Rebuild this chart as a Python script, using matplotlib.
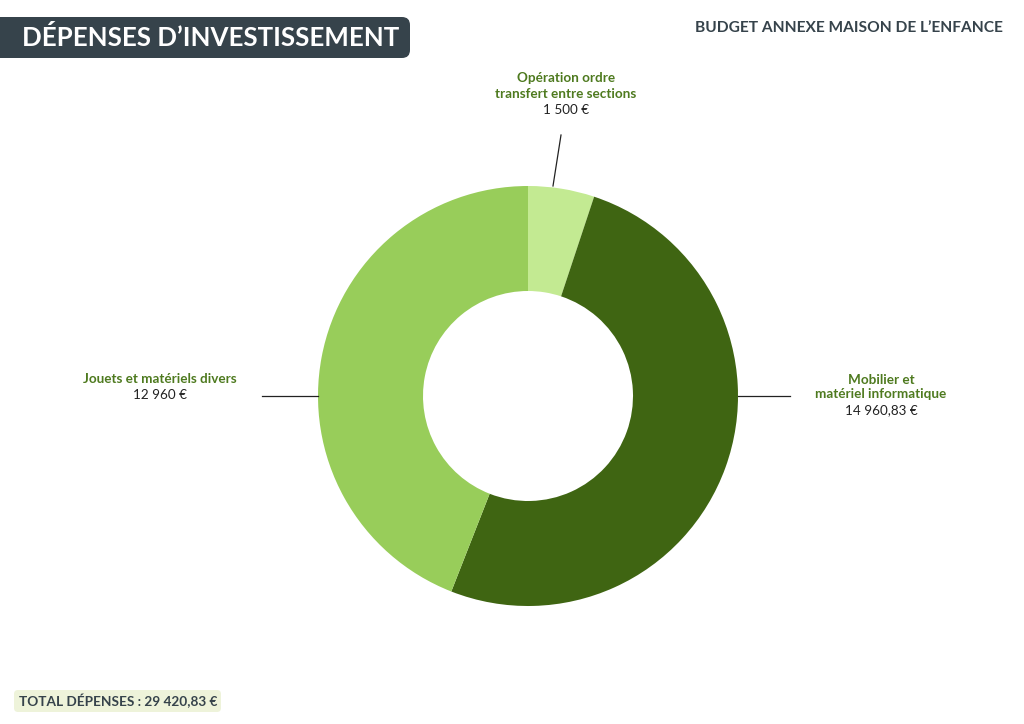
import matplotlib
matplotlib.use('Agg')
import matplotlib.pyplot as plt
from matplotlib.patches import FancyBboxPatch

# données
categories = ['Opération ordre\ntransfert entre sections',
              'Mobilier et\nmatériel informatique',
              'Jouets et matériels divers']
montants = [1500, 14960.83, 12960]
montants_txt = ['1 500 €', '14 960,83 €', '12 960 €']
couleurs = ['#C3EA92', '#3F6512', '#98CD5A']
total_txt = 'TOTAL DÉPENSES : 29 420,83 €'

plt.rcParams['font.family'] = ['Lato', 'DejaVu Sans']

fig = plt.figure(figsize=(10.24, 7.24), dpi=100)
ax = fig.add_axes([0, 0, 1, 1])

H = 724
cx, cy, r = 528, H - 396, 210

ax.pie(montants, colors=couleurs, startangle=90, counterclock=False,
       center=(cx, cy), radius=r, frame=True,
       wedgeprops=dict(width=r * 0.5, linewidth=0))
ax.set_xlim(0, 1024)
ax.set_ylim(0, 724)
ax.set_aspect('equal')
ax.axis('off')

vert = '#4E7A1F'
# lignes de rappel
ax.plot([561, 553], [H - 135, H - 186], color='#222222', lw=0.9)
ax.plot([738, 790], [H - 396, H - 396], color='#222222', lw=0.9)
ax.plot([262, 318], [H - 396, H - 396], color='#222222', lw=0.9)

# étiquettes
ax.text(566, H - 86, categories[0], ha='center', va='center', fontsize=9.7,
        fontweight='bold', color=vert, linespacing=1.3)
ax.text(566, H - 110, montants_txt[0], ha='center', va='center', fontsize=9.7, color='#222222')

ax.text(881, H - 387, categories[1], ha='center', va='center', fontsize=9.7,
        fontweight='bold', color=vert, linespacing=1.25)
ax.text(881, H - 410, montants_txt[1], ha='center', va='center', fontsize=9.7, color='#222222')

ax.text(160, H - 379, categories[2], ha='center', va='center', fontsize=9.7,
        fontweight='bold', color=vert)
ax.text(160, H - 395, montants_txt[2], ha='center', va='center', fontsize=9.7, color='#222222')

# bandeau titre
ax.add_patch(FancyBboxPatch((-20, H - 58), 430, 41, boxstyle='round,pad=0,rounding_size=8',
                            facecolor='#36434B', edgecolor='none'))
ax.text(22, H - 37, 'DÉPENSES D’INVESTISSEMENT', ha='left', va='center', fontsize=18.6,
        fontweight='bold', color='white')

ax.text(1003, H - 28, 'BUDGET ANNEXE MAISON DE L’ENFANCE', ha='right', va='center',
        fontsize=11.2, fontweight='bold', color='#36434B')

# total
ax.add_patch(FancyBboxPatch((14, H - 712), 207, 22, boxstyle='round,pad=0,rounding_size=4',
                            facecolor='#EEF3DA', edgecolor='none'))
ax.text(19, H - 701, total_txt, ha='left', va='center', fontsize=9.8,
        fontweight='bold', color='#36434B')

fig.savefig('out.png', dpi=100)
